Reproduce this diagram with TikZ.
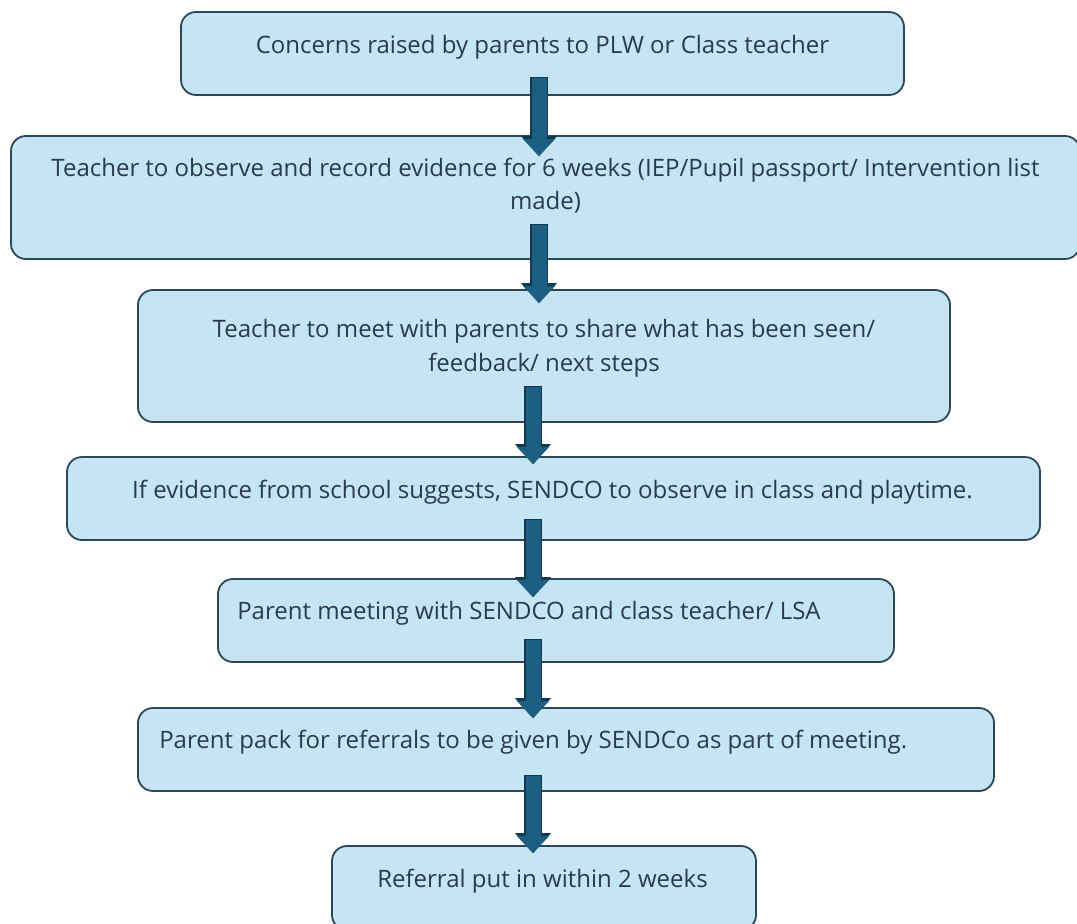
\documentclass[tikz,border=0pt]{standalone}
\usepackage{fontspec}
\setmainfont{Open Sans}
\usetikzlibrary{arrows.meta,calc}

\definecolor{boxfill}{HTML}{C5E5F5}
\definecolor{boxline}{HTML}{2C4759}
\definecolor{arrowfill}{HTML}{1C5F82}
\definecolor{arrowline}{HTML}{12384E}
\definecolor{txtcol}{HTML}{2A3A4B}

\begin{document}
\begin{tikzpicture}[x=1pt,y=-1pt,
  box/.style={draw=boxline, line width=1.8pt, fill=boxfill, rounded corners=15pt, inner sep=0pt},
  txt/.style={inner sep=0pt, text=txtcol, font=\fontsize{24}{33}\selectfont, align=center},
  flow/.style={line width=15pt, arrowfill, shorten <=1.5pt,
    -{Triangle[width=32pt,length=17pt,line width=0pt]},
    preaction={draw, arrowline, line width=18pt, shorten <=0pt,
      -{Triangle[width=36pt,length=20pt,line width=0pt]}}}]
\useasboundingbox (0,0) rectangle (1077,924);
\clip (0,0) rectangle (1077,924);

% Boxes
\node[box, minimum width=723pt, minimum height=83pt]  (concern)    at (542.5,53.5) {};
\node[box, minimum width=1069pt, minimum height=123pt] (observe)   at (545.5,197.5) {};
\node[box, minimum width=812pt, minimum height=132pt]  (meet)      at (544,356) {};
\node[box, minimum width=973pt, minimum height=83pt]   (sendco)    at (553.5,498.5) {};
\node[box, minimum width=676pt, minimum height=83pt]   (parentmeet) at (556,620.5) {};
\node[box, minimum width=856pt, minimum height=83pt]   (pack)      at (566,749.5) {};
\node[box, minimum width=424pt, minimum height=84pt]   (referral)  at (544,888) {};

% Texts
\node[txt] (concernText) at ([yshift=6pt]concern.center) {Concerns raised by parents to PLW or Class teacher};
\node[txt] (observeText) at ([yshift=11.5pt]observe.center) {Teacher to observe and record evidence for 6 weeks (IEP/Pupil passport/ Intervention list\\ made)};
\node[txt, font=\fontsize{24}{34}\selectfont] (meetText) at ([yshift=8pt]meet.center) {Teacher to meet with parents to share what has been seen/\\ feedback/ next steps};
\node[txt] (sendcoText) at ([yshift=6.5pt,xshift=-1pt]sendco.center) {If evidence from school suggests, SENDCO to observe in class and playtime.};
\node[txt, anchor=west] (parentmeetText) at ([xshift=20pt,yshift=7.5pt]parentmeet.west) {Parent meeting with SENDCO and class teacher/ LSA};
\node[txt, anchor=west] (packText) at ([xshift=22pt,yshift=7.5pt]pack.west) {Parent pack for referrals to be given by SENDCo as part of meeting.};
\node[txt] (referralText) at ([yshift=7pt,xshift=-1.5pt]referral.center) {Referral put in within 2 weeks};

% Arrows
\coordinate (upper) at (539,0);
\coordinate (lower) at (533,0);
\draw[flow] ($(concern.south -| upper)+(0,-19)$) -- ($(observe.north -| upper)+(0,21)$);
\draw[flow] ($(observe.south -| upper)+(0,-36)$) -- ($(meet.north -| upper)+(0,14)$);
\draw[flow] ($(meet.south -| lower)+(0,-37)$) -- ($(sendco.north -| lower)+(0,8)$);
\draw[flow] ($(sendco.south -| lower)+(0,-22)$) -- ($(parentmeet.north -| lower)+(0,19)$);
\draw[flow] ($(parentmeet.south -| lower)+(0,-24)$) -- ($(pack.north -| lower)+(0,11)$);
\draw[flow] ($(pack.south -| lower)+(0,-17)$) -- ($(referral.north -| lower)+(0,8)$);

\end{tikzpicture}
\end{document}
